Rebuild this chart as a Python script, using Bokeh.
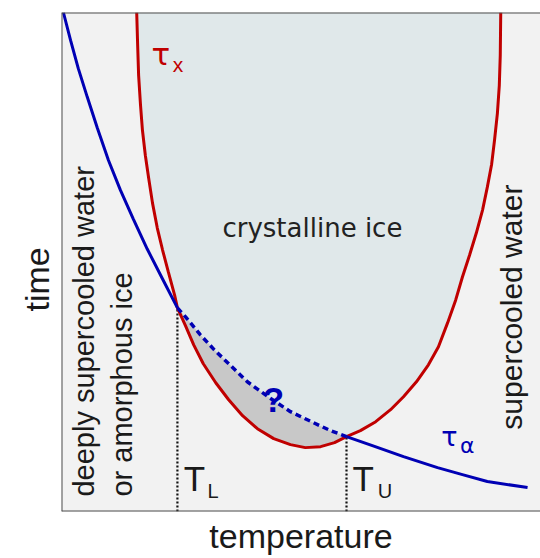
import math
from bokeh.plotting import figure
from bokeh.models import Range1d, Span, Label, Title
from bokeh.core.properties import value
from bokeh.embed import file_html
from bokeh.resources import INLINE

# ---- data (arbitrary units: temperature 0..100, log time 0..100) ----
# tau_alpha : structural relaxation time (blue)
alpha_T = [0.4, 1.9, 3.5, 5.4, 7.5, 9.8, 12.3, 15.0, 17.9, 21.1, 24.2,
           25.9, 29.0, 31.9, 34.7, 38.8, 43.4, 47.8, 52.6, 56.2, 59.5,
           64.9, 71.4, 78.5, 83.7, 88.9, 97.3]
alpha_t = [100.0, 94.4, 88.8, 83.0, 76.8, 70.4, 64.4, 58.6, 52.6, 46.6, 40.8,
           39.0, 35.4, 32.4, 29.8, 26.0, 22.8, 20.0, 17.8, 16.2, 15.0,
           13.2, 11.0, 8.8, 7.4, 6.0, 4.8]

# tau_x : crystallization time (red)
cryst_T = [15.7, 15.9, 16.1, 16.5, 16.9, 17.5, 18.2, 19.0, 20.0, 21.1, 22.3, 23.6, 24.2,
           25.9, 27.6, 29.6, 32.2, 34.9, 37.8, 40.9, 44.3, 47.8, 50.9, 54.1, 57.0, 59.5,
           62.4, 65.6, 68.7, 71.4, 74.1, 76.6, 78.7, 80.6, 82.3, 83.7, 85.2, 86.6,
           87.9, 88.9, 89.8, 90.4, 91.0, 91.4, 91.6, 91.7]
cryst_t = [100.0, 93.4, 87.4, 81.4, 76.4, 71.4, 66.8, 61.8, 56.8, 52.4, 48.0, 43.4, 40.8,
           37.2, 33.4, 29.6, 25.8, 22.4, 19.2, 16.6, 14.6, 13.4, 12.8, 13.0, 13.8, 15.0,
           16.2, 18.0, 20.4, 23.0, 26.0, 29.4, 33.0, 37.8, 42.4, 47.0, 51.4, 55.8,
           60.4, 65.0, 69.6, 74.4, 79.8, 85.4, 91.4, 100.0]

# crossing points T_L and T_U
T_L = (24.2, 40.8)
T_U = (59.5, 15.0)

RED = "#c00000"
BLUE = "#0000b4"
TXT = "#1a1a1a"

p = figure(width=540, height=558, output_backend="svg", toolbar_location=None,
           x_range=Range1d(0, 100), y_range=Range1d(0, 100),
           min_border_left=61, min_border_right=0, min_border_top=12,
           min_border_bottom=46, background_fill_color="#f2f2f2",
           border_fill_color="white", outline_line_color=None)
p.axis.visible = False
p.grid.visible = False

# regions
iL = alpha_T.index(T_L[0]); iU = alpha_T.index(T_U[0])
cL = cryst_T.index(T_L[0]); cU = cryst_T.index(T_U[0])
p.patch(cryst_T, cryst_t, fill_color="#e0e8ea", line_color=None)
gx = cryst_T[cL:cU + 1] + alpha_T[iL:iU + 1][::-1]
gy = cryst_t[cL:cU + 1] + alpha_t[iL:iU + 1][::-1]
p.patch(gx, gy, fill_color="#c8c8c8", line_color=None)

# vertical markers
p.segment(x0=[T_L[0], T_U[0]], y0=[0, 0], x1=[T_L[0], T_U[0]], y1=[T_L[1], T_U[1]],
          line_color="#111111", line_width=2.2, line_dash="2 2")

# curves
p.line(cryst_T, cryst_t, line_color=RED, line_width=3)
p.line(alpha_T[:iL + 1], alpha_t[:iL + 1], line_color=BLUE, line_width=3)
p.line(alpha_T[iL:iU + 1], alpha_t[iL:iU + 1], line_color=BLUE, line_width=3.5, line_dash="6 4")
p.line(alpha_T[iU:], alpha_t[iU:], line_color=BLUE, line_width=3)

# frame lines
for loc, dim in [(0, "height"), (0, "width"), (100, "width")]:
    p.add_layout(Span(location=loc, dimension=dim, line_color="#4d4d4d", line_width=2))

def lab(x, y, t, size, color=TXT, font="Liberation Sans", style="normal", angle=0):
    p.add_layout(Label(x=x, y=y, text=t, text_font=font, text_font_size=size,
                       text_color=color, text_font_style=style, angle=angle,
                       text_align="left", text_baseline="alphabetic"))

lab(18.8, 91.6, "τ", "31px", RED, font="DejaVu Sans")
lab(23.2, 89.6, "x", "21px", RED)
lab(79.3, 15.1, "τ", "27px", BLUE, font="DejaVu Sans")
lab(83.2, 13.3, "α", "22px", BLUE, font="DejaVu Sans")
lab(42.0, 22.4, "?", "35px", BLUE, style="bold")
lab(25.5, 6.6, "T", "35px")
lab(30.5, 4.1, "L", "20px")
lab(60.75, 6.6, "T", "35px")
lab(66.0, 4.1, "U", "20px")
lab(33.6, 56.9, "crystalline ice", "26px", "#222222", font="DejaVu Sans")
lab(4.66, 3.0, "deeply supercooled water", "29px", angle=math.pi / 2)
lab(12.6, 3.0, "or amorphous ice", "29px", angle=math.pi / 2)
lab(93.9, 16.4, "supercooled water", "30px", angle=math.pi / 2)

p.add_layout(Title(text="temperature", align="center", text_font="Liberation Sans",
                   text_font_size="34px", text_font_style="normal", text_color=TXT,
                   standoff=7), "below")
p.add_layout(Title(text="time", align="left", offset=200, text_font="Liberation Sans",
                   text_font_size="34px", text_font_style="normal", text_color=TXT,
                   standoff=12), "left")

open("out.html", "w").write(file_html(p, INLINE))
